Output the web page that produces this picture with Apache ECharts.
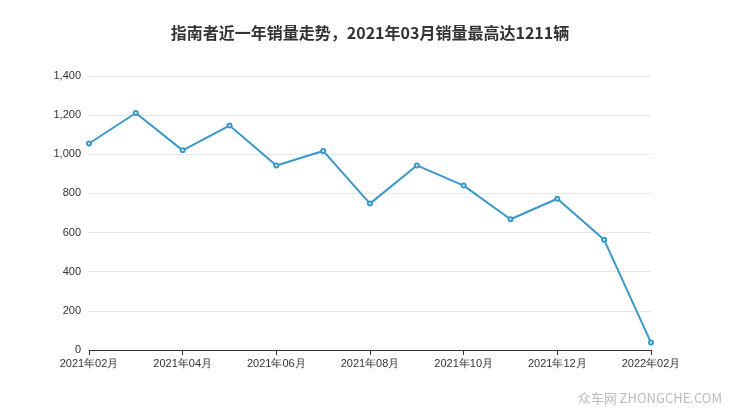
<!DOCTYPE html>
<html><head><meta charset="utf-8">
<script src="https://cdn.jsdelivr.net/npm/echarts@6/dist/echarts.min.js"></script>
<style>html,body{margin:0;padding:0;background:#fff}#c{width:740px;height:417px}</style>
</head><body><div id="c"></div>
<script>
const categories = ['2021年02月','2021年03月','2021年04月','2021年05月','2021年06月','2021年07月','2021年08月','2021年09月','2021年10月','2021年11月','2021年12月','2022年01月','2022年02月'];
const sales = [1055,1211,1020,1147,943,1017,748,943,840,668,773,563,38];
const yTicks = {min:0,max:1400,interval:200};
const chart = echarts.init(document.getElementById('c'));
chart.setOption({
  title:{text:'指南者近一年销量走势，2021年03月销量最高达1211辆',left:'center',top:20,textStyle:{fontSize:16,fontWeight:'bold',color:'#333',fontFamily:'Noto Sans CJK SC'}},
  graphic:[{type:'text',right:18,bottom:12,style:{text:'众车网 ZHONGCHE.COM',fill:'#bbb',fontSize:13,fontFamily:'Noto Sans CJK SC'}}],
  grid:{left:89,right:89,top:76,bottom:67},
  xAxis:{type:'category',data:categories,boundaryGap:false,
    axisLine:{lineStyle:{color:'#333'}},axisTick:{interval:1,lineStyle:{color:'#333'}},
    axisLabel:{interval:1,color:'#333',fontSize:11}},
  yAxis:{type:'value',min:yTicks.min,max:yTicks.max,interval:yTicks.interval,
    axisLine:{show:false},axisTick:{show:false},
    axisLabel:{color:'#333',fontSize:11},splitLine:{lineStyle:{color:'#e6e6e6'}}},
  series:[{type:'line',data:sales,symbol:'emptyCircle',symbolSize:4,
    lineStyle:{color:'#3a98c9',width:2},itemStyle:{color:'#3a98c9'}}]
});
</script></body></html>
